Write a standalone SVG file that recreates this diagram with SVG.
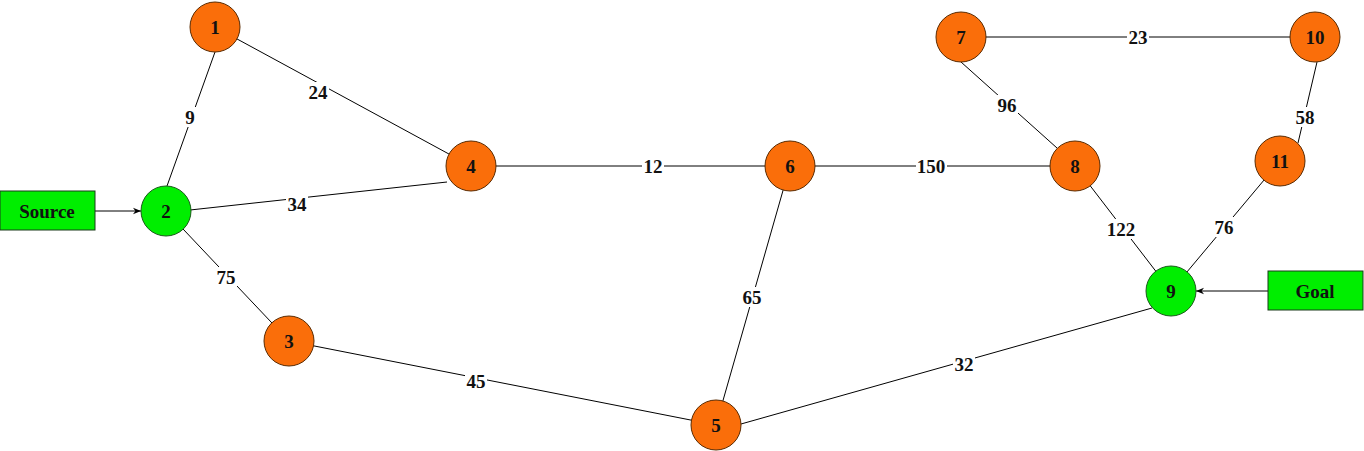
<svg xmlns="http://www.w3.org/2000/svg" width="1364" height="451" viewBox="0 0 1364 451">
<style>
.n{fill:#fa6e0a;stroke:#5a2a00;stroke-width:1}
.g{fill:#00ee00;stroke:#1a5a1a;stroke-width:1}
.b{fill:#00ee00;stroke:#1a3a1a;stroke-width:1}
text{font-family:"Liberation Serif",serif;font-weight:bold;font-size:19px;text-anchor:middle;dominant-baseline:central;fill:#111}
.e line{stroke:#000;stroke-width:1}
.lb{fill:#fff}
</style>
<defs>
<marker id="a" viewBox="0 0 10 10" refX="10" refY="5" markerWidth="8" markerHeight="8" orient="auto" markerUnits="userSpaceOnUse"><path d="M0,1 L10,5 L0,9 L3,5 z" fill="#000"/></marker>
</defs>
<rect width="1364" height="451" fill="#fff"/>
<g id="connectors" class="e">
<line x1="215" y1="52" x2="167" y2="186"/>
<line x1="215" y1="27" x2="471" y2="166"/>
<line x1="190" y1="210" x2="447" y2="182"/>
<line x1="166" y1="211" x2="289" y2="341"/>
<line x1="471" y1="166" x2="790" y2="166"/>
<line x1="790" y1="166" x2="1075" y2="166"/>
<line x1="790" y1="166" x2="716" y2="425"/>
<line x1="289" y1="341" x2="716" y2="425"/>
<line x1="741" y1="424" x2="1152" y2="308"/>
<line x1="961" y1="62" x2="1057" y2="148"/>
<line x1="961" y1="37" x2="1315" y2="37"/>
<line x1="1317" y1="62" x2="1298" y2="143"/>
<line x1="1075" y1="166" x2="1171" y2="291"/>
<line x1="1280" y1="161" x2="1171" y2="291"/>
<line x1="95" y1="211" x2="141" y2="211" marker-end="url(#a)"/>
<line x1="1268" y1="291" x2="1196" y2="291" marker-end="url(#a)"/>
<g id="labels">
<rect class="lb" x="183" y="107" width="14" height="20"/><text x="190" y="117">9</text>
<rect class="lb" x="307" y="82" width="22" height="20"/><text x="318" y="92">24</text>
<rect class="lb" x="286" y="194" width="22" height="20"/><text x="297" y="204">34</text>
<rect class="lb" x="215" y="267" width="22" height="20"/><text x="226" y="277">75</text>
<rect class="lb" x="642" y="156" width="22" height="20"/><text x="653" y="166">12</text>
<rect class="lb" x="916" y="156" width="31" height="20"/><text x="931" y="166">150</text>
<rect class="lb" x="741" y="287" width="22" height="20"/><text x="752" y="297">65</text>
<rect class="lb" x="465" y="371" width="22" height="20"/><text x="476" y="381">45</text>
<rect class="lb" x="953" y="354" width="22" height="20"/><text x="964" y="364">32</text>
<rect class="lb" x="996" y="95" width="22" height="20"/><text x="1007" y="105">96</text>
<rect class="lb" x="1127" y="27" width="22" height="20"/><text x="1138" y="37">23</text>
<rect class="lb" x="1294" y="107" width="22" height="20"/><text x="1305" y="117">58</text>
<rect class="lb" x="1106" y="219" width="31" height="20"/><text x="1121" y="229">122</text>
<rect class="lb" x="1213" y="217" width="22" height="20"/><text x="1224" y="227">76</text>
</g>
</g>
<g id="source"><rect class="b" x="0" y="191" width="95" height="39"/><text x="47" y="211">Source</text></g>
<g id="goal"><rect class="b" x="1268" y="271" width="95" height="39"/><text x="1315" y="291">Goal</text></g>
<g id="n1"><circle class="n" cx="215" cy="27" r="25"/><text x="215" y="27">1</text></g>
<g id="n2"><circle class="g" cx="166" cy="211" r="25"/><text x="166" y="211">2</text></g>
<g id="n3"><circle class="n" cx="289" cy="341" r="25"/><text x="289" y="341">3</text></g>
<g id="n4"><circle class="n" cx="471" cy="166" r="25"/><text x="471" y="166">4</text></g>
<g id="n5"><circle class="n" cx="716" cy="425" r="25"/><text x="716" y="425">5</text></g>
<g id="n6"><circle class="n" cx="790" cy="166" r="25"/><text x="790" y="166">6</text></g>
<g id="n7"><circle class="n" cx="961" cy="37" r="25"/><text x="961" y="37">7</text></g>
<g id="n8"><circle class="n" cx="1075" cy="166" r="25"/><text x="1075" y="166">8</text></g>
<g id="n9"><circle class="g" cx="1171" cy="291" r="25"/><text x="1171" y="291">9</text></g>
<g id="n10"><circle class="n" cx="1315" cy="37" r="25"/><text x="1315" y="37">10</text></g>
<g id="n11"><circle class="n" cx="1280" cy="161" r="25"/><text x="1280" y="161">11</text></g>
</svg>
